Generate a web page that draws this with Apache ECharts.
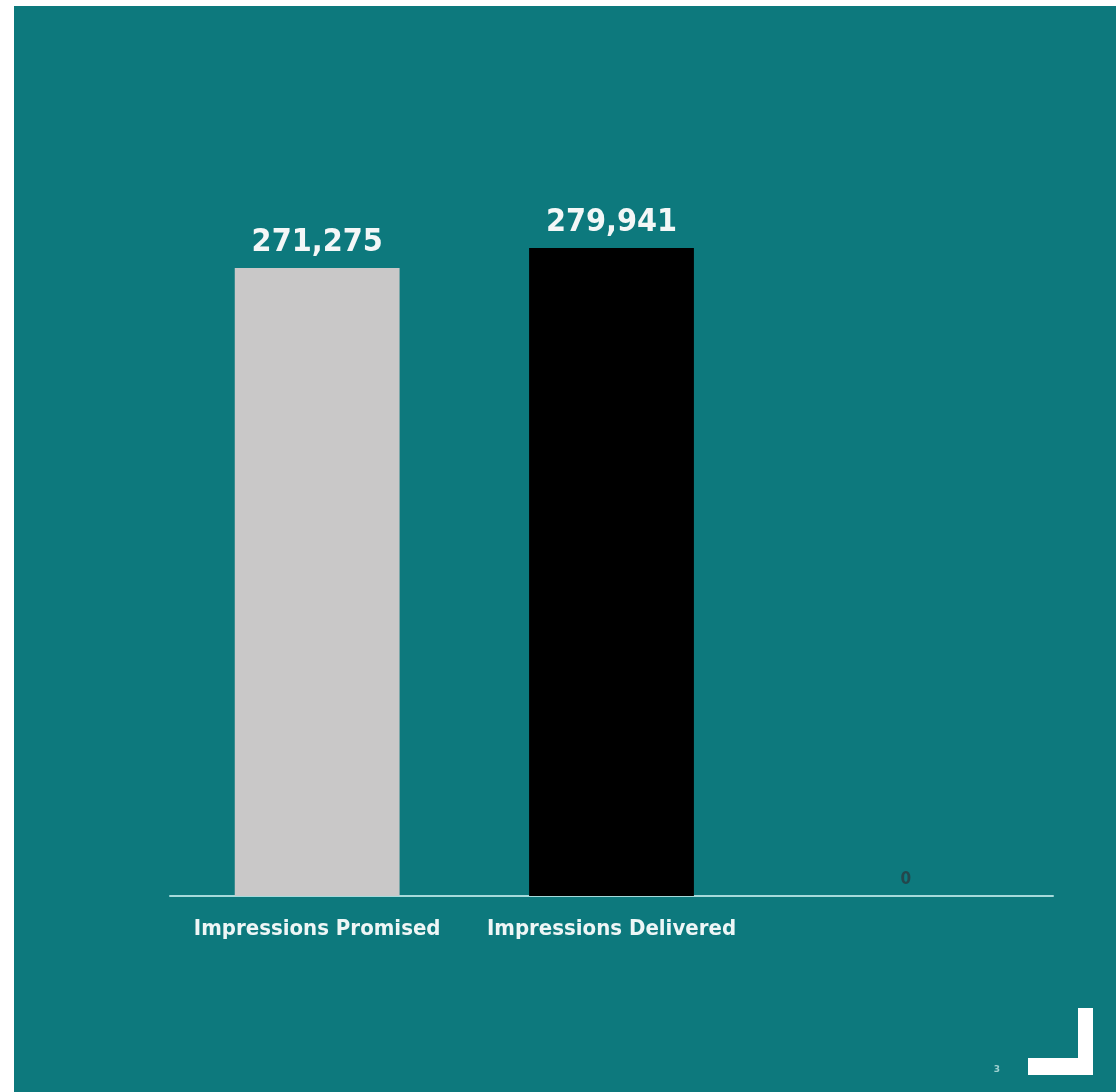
<!DOCTYPE html>
<html>
<head>
<meta charset="utf-8">
<script src="https://cdn.jsdelivr.net/npm/echarts@6/dist/echarts.min.js"></script>
<style>
  html, body { margin: 0; padding: 0; background: #ffffff; }
  #chart { position: absolute; left: 14px; top: 6px; width: 1102px; height: 1086px; }
</style>
</head>
<body>
<div id="chart"></div>
<script>
const categories = ['Impressions Promised', 'Impressions Delivered', ''];
const values = [271275, 279941, 0];
const barColors = ['#c9c8c8', '#000000', '#000000'];
const labelColors = ['#f4f7f7', '#f4f7f7', '#24474c'];
const pageNumber = '3';

const chart = echarts.init(document.getElementById('chart'));
const fmt = v => v.toLocaleString('en-US');

chart.setOption({
  backgroundColor: '#0d797d',
  animation: false,
  grid: { left: 156, right: 63, top: 195.5, bottom: 196, containLabel: false },
  xAxis: {
    type: 'category',
    data: categories,
    axisLine: { show: true, lineStyle: { color: '#a6dadb', width: 2 } },
    axisTick: { show: false },
    axisLabel: {
      color: '#eef6f6',
      fontFamily: 'DejaVu Sans Condensed',
      fontWeight: 'bold',
      fontSize: 22,
      margin: 22,
      interval: 0
    }
  },
  yAxis: {
    type: 'value',
    min: 0,
    max: 300000,
    show: false,
    splitLine: { show: false }
  },
  series: [{
    type: 'bar',
    barWidth: '56%',
    data: values.map((v, i) => ({
      value: v,
      itemStyle: { color: barColors[i] },
      label: i === 2 ? { color: labelColors[i], fontSize: 17, distance: 8 } : { color: labelColors[i] }
    })),
    label: {
      show: true,
      position: 'top',
      distance: 9,
      formatter: p => fmt(p.value),
      fontFamily: 'DejaVu Sans Condensed',
      fontWeight: 'bold',
      fontSize: 32
    }
  }],
  graphic: [
    { type: 'rect', shape: { x: 1064, y: 1002, width: 15, height: 67 }, style: { fill: '#ffffff' } },
    { type: 'rect', shape: { x: 1014, y: 1052, width: 65, height: 17 }, style: { fill: '#ffffff' } },
    { type: 'text', style: { x: 983, y: 1064, text: pageNumber, fill: '#9fd0d0', font: 'bold 9px DejaVu Sans', textAlign: 'center', textVerticalAlign: 'middle' } }
  ]
});
</script>
</body>
</html>
